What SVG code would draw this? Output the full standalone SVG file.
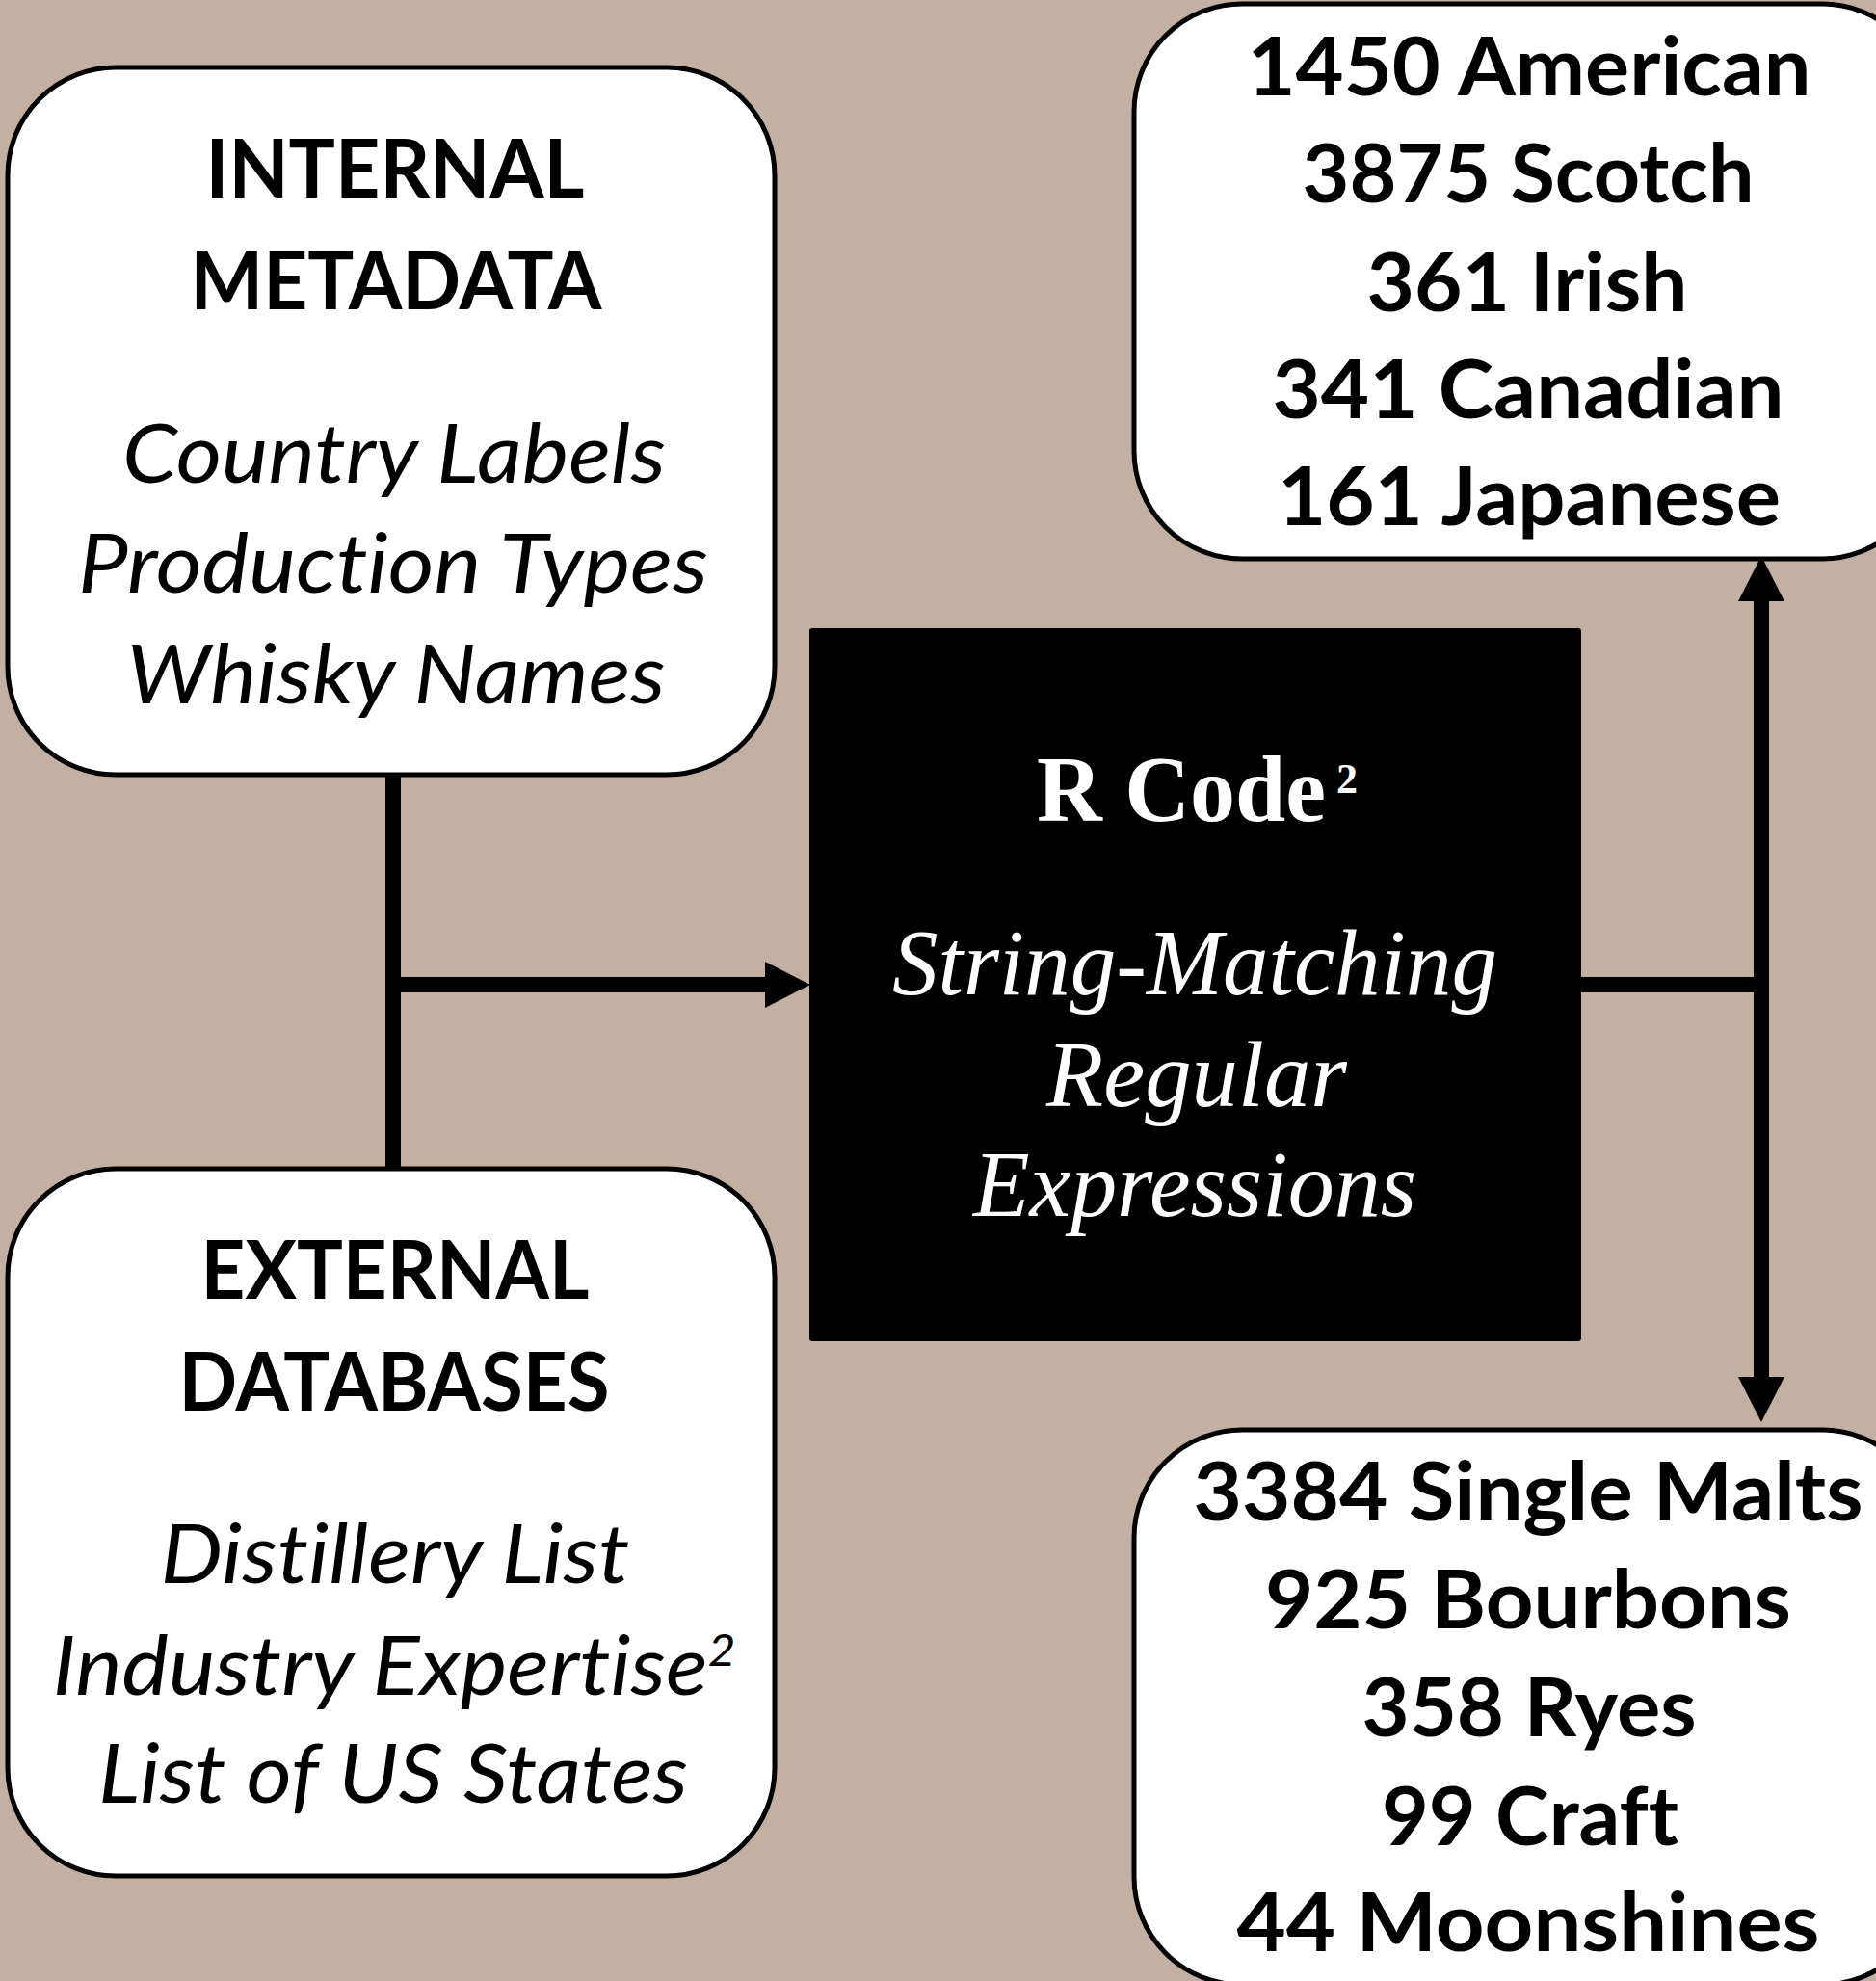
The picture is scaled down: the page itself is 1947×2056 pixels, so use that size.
<svg xmlns="http://www.w3.org/2000/svg" width="1947" height="2056" viewBox="0 0 1947 2056">
  <style>
    .box { fill: #ffffff; stroke: #000000; stroke-width: 5; }
    .core { fill: #000000; }
    .sans { font-family: Lato, "Open Sans", "Liberation Sans", sans-serif; font-size: 85px; fill: #000000; text-anchor: middle; font-variant-ligatures: none; }
    .hd { font-weight: bold; }
    .it { font-style: italic; }
    .serif { font-family: "Liberation Serif", "Times New Roman", serif; fill: #ffffff; text-anchor: middle; font-variant-ligatures: none; }
    .wire { fill: none; stroke: #000000; stroke-width: 16; stroke-linecap: butt; }
  </style>
  <defs>
    <marker id="head" markerUnits="userSpaceOnUse" markerWidth="48" markerHeight="48" refX="0" refY="24" orient="auto-start-reverse" overflow="visible">
      <path d="M0,0 L47,24 L0,48 Z" fill="#000000"/>
    </marker>
  </defs>

  <rect x="0" y="0" width="1947" height="2056" fill="#c3b0a3"/>

  <!-- connectors -->
  <g id="connectors">
    <path class="wire" d="M408,804 L408,1213"/>
    <path class="wire" d="M408,1022 L794,1022" marker-end="url(#head)"/>
    <path class="wire" d="M1641,1022 L1828,1022"/>
    <path class="wire" d="M1828,624 L1828,1429" marker-start="url(#head)" marker-end="url(#head)"/>
  </g>

  <!-- internal metadata -->
  <g id="internal-metadata">
    <rect class="box" x="8" y="70" width="796" height="734" rx="112" ry="112"/>
    <text class="sans hd" x="410" y="205" textLength="393" lengthAdjust="spacingAndGlyphs">INTERNAL</text>
    <text class="sans hd" x="411" y="321" textLength="427" lengthAdjust="spacingAndGlyphs">METADATA</text>
    <text class="sans it" x="409" y="501" textLength="564" lengthAdjust="spacingAndGlyphs">Country Labels</text>
    <text class="sans it" x="408" y="615" textLength="654" lengthAdjust="spacingAndGlyphs">Production Types</text>
    <text class="sans it" x="411" y="730" textLength="559" lengthAdjust="spacingAndGlyphs">Whisky Names</text>
  </g>

  <!-- external databases -->
  <g id="external-databases">
    <rect class="box" x="8" y="1213" width="796" height="734" rx="112" ry="112"/>
    <text class="sans hd" x="410" y="1348" textLength="403" lengthAdjust="spacingAndGlyphs">EXTERNAL</text>
    <text class="sans hd" x="409" y="1464" textLength="447" lengthAdjust="spacingAndGlyphs">DATABASES</text>
    <text class="sans it" x="410" y="1643" textLength="487" lengthAdjust="spacingAndGlyphs">Distillery List</text>
    <text class="sans it" x="409" y="1759" textLength="709" lengthAdjust="spacingAndGlyphs">Industry Expertise<tspan font-size="46" dy="-30">2</tspan></text>
    <text class="sans it" x="408" y="1871" textLength="612" lengthAdjust="spacingAndGlyphs">List of US States</text>
  </g>

  <!-- R code core -->
  <g id="r-code">
    <rect class="core" x="840" y="652" width="801" height="740" rx="3" ry="3"/>
    <text class="serif" x="1226" y="852" font-size="98" font-weight="bold" textLength="300" lengthAdjust="spacingAndGlyphs">R Code</text>
    <text class="serif" x="1398" y="823" font-size="44" font-weight="bold">2</text>
    <text class="serif" x="1240" y="1032" font-size="97" font-style="italic" textLength="628" lengthAdjust="spacingAndGlyphs">String-Matching</text>
    <text class="serif" x="1242" y="1148" font-size="97" font-style="italic" textLength="312" lengthAdjust="spacingAndGlyphs">Regular</text>
    <text class="serif" x="1240" y="1262" font-size="97" font-style="italic" textLength="460" lengthAdjust="spacingAndGlyphs">Expressions</text>
  </g>

  <!-- counts by origin -->
  <g id="origin-counts">
    <rect class="box" x="1177" y="4" width="826" height="576" rx="112" ry="112"/>
    <text class="sans hd" x="1587" y="99" textLength="585" lengthAdjust="spacingAndGlyphs">1450 American</text>
    <text class="sans hd" x="1586" y="210" textLength="469" lengthAdjust="spacingAndGlyphs">3875 Scotch</text>
    <text class="sans hd" x="1585" y="323" textLength="333" lengthAdjust="spacingAndGlyphs">361 Irish</text>
    <text class="sans hd" x="1586" y="434" textLength="531" lengthAdjust="spacingAndGlyphs">341 Canadian</text>
    <text class="sans hd" x="1587" y="545" textLength="522" lengthAdjust="spacingAndGlyphs">161 Japanese</text>
  </g>

  <!-- counts by style -->
  <g id="style-counts">
    <rect class="box" x="1177" y="1484" width="826" height="576" rx="112" ry="112"/>
    <text class="sans hd" x="1586" y="1578" textLength="695" lengthAdjust="spacingAndGlyphs">3384 Single Malts</text>
    <text class="sans hd" x="1586" y="1690" textLength="546" lengthAdjust="spacingAndGlyphs">925 Bourbons</text>
    <text class="sans hd" x="1587" y="1802" textLength="347" lengthAdjust="spacingAndGlyphs">358 Ryes</text>
    <text class="sans hd" x="1588" y="1915" textLength="308" lengthAdjust="spacingAndGlyphs">99 Craft</text>
    <text class="sans hd" x="1586" y="2025" textLength="605" lengthAdjust="spacingAndGlyphs">44 Moonshines</text>
  </g>
</svg>
